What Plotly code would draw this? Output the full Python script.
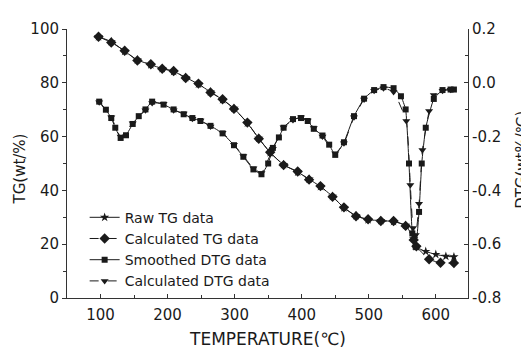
import plotly.graph_objects as go

# ---- data ----
tg_raw_T = [97, 116, 136, 155, 175, 192, 209, 227, 246, 264, 282, 299, 319, 336, 353,
            373, 394, 411, 428, 446, 463, 481, 499, 518, 537, 555, 567, 571, 585, 600, 615, 627]
tg_raw = [97.1, 95.3, 91.7, 88.5, 86.7, 85.3, 84.2, 82.0, 79.5, 76.6, 73.7, 70.5, 65.0, 59.4, 54.0,
          49.6, 46.8, 44.2, 41.4, 37.8, 33.5, 30.6, 29.1, 28.8, 28.4, 27.0, 22.0, 19.0, 17.3, 16.2, 15.5, 15.3]

tg_calc_T = [97, 116, 136, 155, 175, 192, 209, 227, 246, 264, 282, 299, 319, 336, 353,
             373, 394, 411, 428, 446, 463, 481, 499, 518, 537, 555, 567, 571, 590, 607, 627]
tg_calc = [97.1, 95.0, 91.9, 88.3, 86.9, 85.2, 84.4, 81.8, 79.7, 76.4, 73.9, 70.3, 65.2, 59.2, 54.2,
           49.4, 47.0, 44.0, 41.6, 37.6, 33.7, 30.4, 29.3, 28.6, 28.6, 26.8, 21.6, 19.2, 14.4, 13.1, 13.0]

dtg_s_T = [98, 108, 116, 122, 130, 138, 148, 157, 167, 177, 194, 209, 224, 237, 249, 264, 282,
           299, 313, 328, 340, 350, 357, 366, 373, 387, 399, 409, 418, 431, 441, 450, 463, 478,
           493, 508, 522, 537, 548, 555, 560, 565, 570, 575, 579, 585, 597, 610, 622, 627]
dtg_smooth = [-0.070, -0.100, -0.131, -0.167, -0.205, -0.195, -0.153, -0.124, -0.099, -0.070,
              -0.081, -0.099, -0.117, -0.131, -0.142, -0.160, -0.188, -0.232, -0.275, -0.322,
              -0.340, -0.300, -0.242, -0.203, -0.167, -0.135, -0.131, -0.142, -0.171, -0.196,
              -0.230, -0.268, -0.221, -0.124, -0.059, -0.027, -0.016, -0.020, -0.050, -0.099,
              -0.300, -0.560, -0.610, -0.480, -0.300, -0.167, -0.060, -0.027, -0.025, -0.025]

dtg_c_T = [98, 116, 130, 148, 167, 177, 194, 209, 224, 237, 249, 264, 282, 299, 313, 328, 340,
           357, 373, 387, 399, 409, 418, 431, 450, 463, 478, 493, 508, 522, 537, 556, 562, 566,
           570, 575, 580, 590, 597, 610, 622]
dtg_calc = [-0.072, -0.128, -0.200, -0.150, -0.102, -0.075, -0.078, -0.102, -0.114, -0.134,
            -0.140, -0.162, -0.186, -0.230, -0.272, -0.318, -0.335, -0.245, -0.165, -0.138,
            -0.128, -0.140, -0.168, -0.200, -0.262, -0.225, -0.128, -0.062, -0.030, -0.020,
            -0.034, -0.142, -0.380, -0.540, -0.566, -0.450, -0.250, -0.105, -0.045, -0.030, -0.026]

x_ticks = [100, 200, 300, 400, 500, 600]
y_ticks = [0, 20, 40, 60, 80, 100]
y2_ticks = [-0.8, -0.6, -0.4, -0.2, 0.0, 0.2]
y2_labels = ["-0.8", "-0.6", "-0.4", "-0.2", "0.0", "0.2"]

FONT = "DejaVu Sans"
INK = "#1a1a1a"

fig = go.Figure()
fig.add_trace(go.Scatter(x=tg_raw_T, y=tg_raw, name="Raw TG data", mode="lines+markers",
                         line=dict(color=INK, width=1, shape="spline", smoothing=0.5),
                         marker=dict(symbol="star", size=7, color=INK)))
fig.add_trace(go.Scatter(x=tg_calc_T, y=tg_calc, name="Calculated TG data", mode="lines+markers",
                         line=dict(color=INK, width=1, dash="dash", shape="spline", smoothing=0.5),
                         marker=dict(symbol="diamond", size=8, color=INK)))
fig.add_trace(go.Scatter(x=dtg_s_T, y=dtg_smooth, name="Smoothed DTG data", mode="lines+markers",
                         yaxis="y2",
                         line=dict(color=INK, width=1, shape="spline", smoothing=0.4),
                         marker=dict(symbol="square", size=6, color=INK)))
fig.add_trace(go.Scatter(x=dtg_c_T, y=dtg_calc, name="Calculated DTG data", mode="lines+markers",
                         yaxis="y2",
                         line=dict(color=INK, width=1, dash="dash", shape="spline", smoothing=0.4),
                         marker=dict(symbol="triangle-down", size=7, color=INK)))

axis_common = dict(showgrid=False, zeroline=False, showline=True, linecolor="#333",
                   linewidth=1, tickcolor="#333", ticklen=4,
                   tickfont=dict(family=FONT, size=15, color=INK))

fig.update_layout(
    width=529, height=349,
    margin=dict(l=59, r=69, t=12, b=59),
    paper_bgcolor="white", plot_bgcolor="white",
    font=dict(family=FONT, color=INK),
    xaxis=dict(range=[50, 648], tickvals=x_ticks, ticks="inside", ticklabelstandoff=3,
               minor=dict(dtick=50, ticks="inside", ticklen=3, tickcolor="#333"),
               **axis_common),
    yaxis=dict(range=[0, 100], tickvals=y_ticks, ticks="outside",
               minor=dict(dtick=10, ticks="outside", ticklen=3, tickcolor="#333"),
               **axis_common),
    yaxis2=dict(range=[-0.8, 0.2], tickvals=y2_ticks, ticktext=y2_labels, ticks="inside",
                overlaying="y", side="right",
                minor=dict(dtick=0.1, ticks="inside", ticklen=3, tickcolor="#333"),
                **axis_common),
    legend=dict(x=0.044, y=0.358, xanchor="left", yanchor="top",
                bgcolor="rgba(0,0,0,0)", font=dict(family=FONT, size=14, color=INK),
                tracegroupgap=0),
    showlegend=True,
    annotations=[
        dict(text="TEMPERATURE(℃)", xref="paper", yref="paper", x=0.5, y=-0.151,
             showarrow=False, font=dict(family=FONT, size=17, color=INK),
             xanchor="center", yanchor="middle"),
        dict(text="TG(wt/%)", xref="paper", yref="paper", x=-0.117, y=0.478,
             showarrow=False, textangle=-90, font=dict(family=FONT, size=15, color=INK),
             xanchor="center", yanchor="middle"),
        dict(text="DTG(wt%/℃)", xref="paper", yref="paper", x=1.135, y=0.514,
             showarrow=False, textangle=-90, font=dict(family=FONT, size=15, color=INK),
             xanchor="center", yanchor="middle"),
    ],
)

fig.write_html("out.html")
